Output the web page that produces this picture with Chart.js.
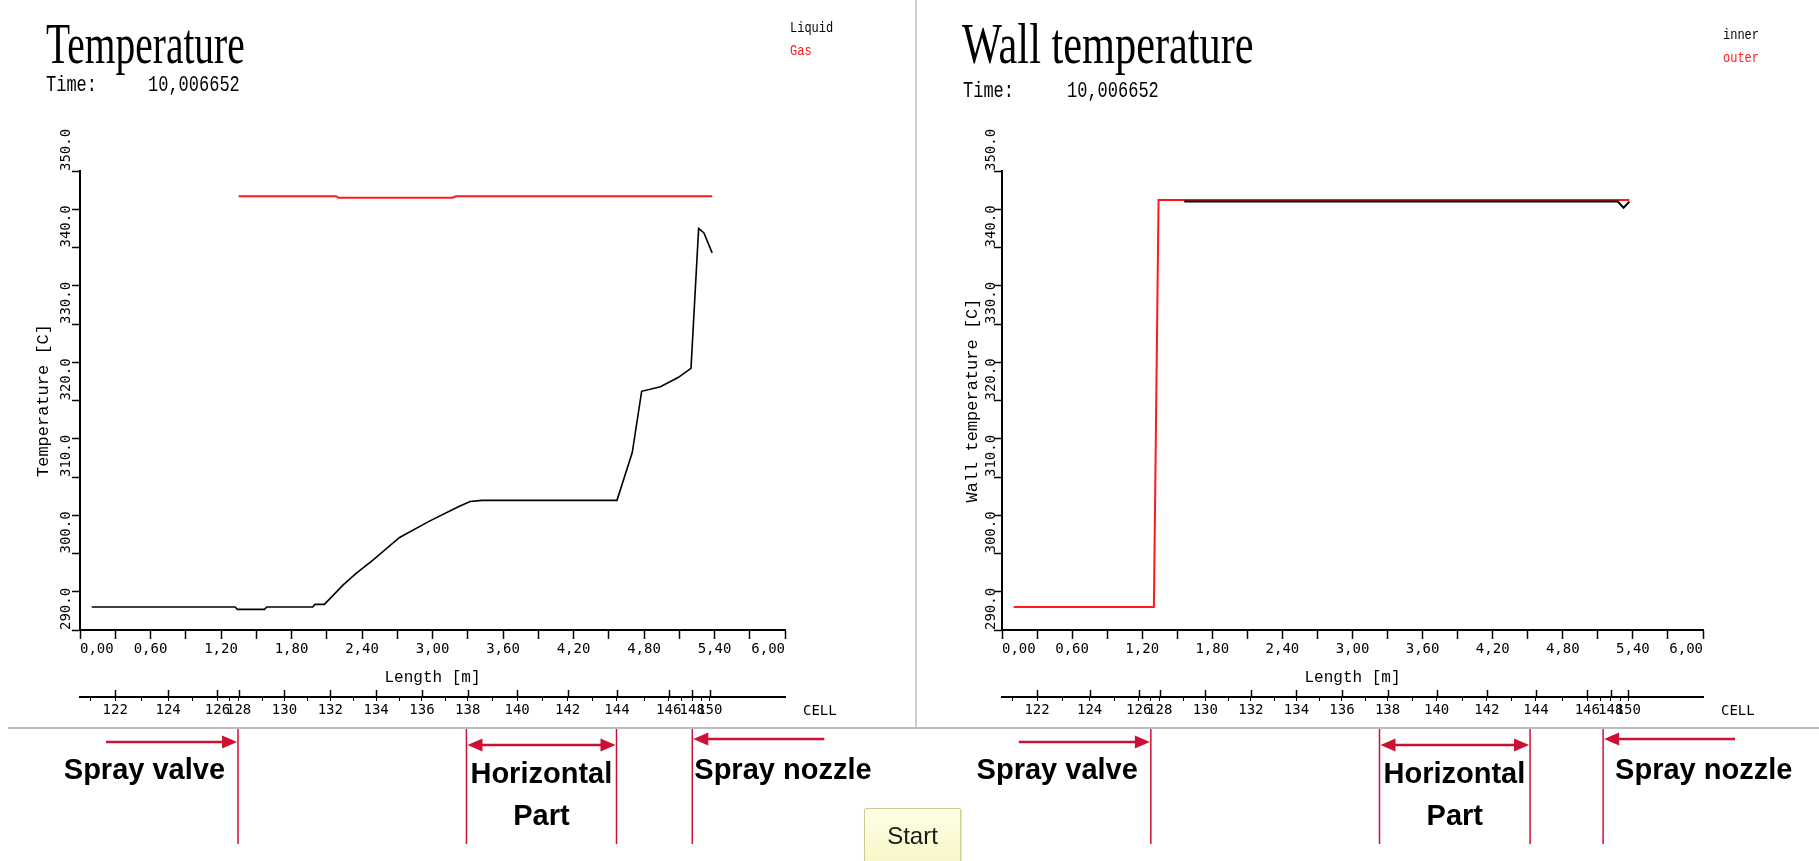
<!DOCTYPE html>
<html>
<head>
<meta charset="utf-8">
<title>Temperature / Wall temperature</title>
<script src="https://cdn.jsdelivr.net/npm/chart.js@4.4.1/dist/chart.umd.min.js"></script>
<style>
  html, body { margin: 0; padding: 0; background: #fff; }
  #page { position: relative; width: 1819px; height: 861px; overflow: hidden; background: #fff; }
  canvas { position: absolute; top: 0; }
  .t { position: absolute; white-space: nowrap; transform-origin: 0 0; line-height: 1; color: #000; }
  .title { font-family: "Liberation Serif", serif; font-size: 58px; }
  .time { font-family: "Liberation Mono", monospace; font-size: 17px; transform: scaleY(1.3); }
  .leg { font-family: "Liberation Mono", monospace; font-size: 12px; transform: scaleY(1.25); }
  .red { color: #ff1a1a; }
  #vsep { position: absolute; left: 915px; top: 0; width: 2px; height: 728px; background: #cfcfcf; }
  #hsep { position: absolute; left: 8px; top: 727px; width: 1811px; height: 2px; background: #bdbdbd; }
  #start { position: absolute; left: 864px; top: 808px; width: 95px; height: 60px;
           border: 1px solid #cdc992; border-radius: 2px;
           background: linear-gradient(#ffffe6, #f6f4c4);
           box-shadow: 1px 1px 2px rgba(0,0,0,0.12);
           font-family: "Liberation Sans", Arial, sans-serif; font-size: 24px; color: #1a1a1a; }
  #start span { position: absolute; left: 0; width: 95px; top: 13px; text-align: center; }
</style>
</head>
<body>
<div id="page">
  <canvas id="leftChart" width="916" height="861" style="left:0"></canvas>
  <canvas id="rightChart" width="903" height="861" style="left:916px"></canvas>

  <div class="t title" style="left:46px; top:15px; transform: scaleX(0.68);">Temperature</div>
  <div class="t time" style="left:46px; top:74px;">Time:</div>
  <div class="t time" style="left:148px; top:74px;">10,006652</div>
  <div class="t leg" style="left:790px; top:21px;">Liquid</div>
  <div class="t leg red" style="left:790px; top:44px;">Gas</div>

  <div class="t title" style="left:962px; top:15px; transform: scaleX(0.73);">Wall temperature</div>
  <div class="t time" style="left:963px; top:80px;">Time:</div>
  <div class="t time" style="left:1067px; top:80px;">10,006652</div>
  <div class="t leg" style="left:1723px; top:28px;">inner</div>
  <div class="t leg red" style="left:1723px; top:51px;">outer</div>

  <div id="vsep"></div>
  <div id="hsep"></div>
  <div id="start"><span>Start</span></div>
</div>

<script>
// ---- Fluid temperature along the spray line ----
const lengthLiquid = [0.10, 1.32, 1.34, 1.57, 1.59, 1.98, 2.00, 2.08, 2.24, 2.35, 2.49, 2.72, 2.97, 3.22, 3.32, 3.42, 4.57, 4.70, 4.78, 4.94, 5.09, 5.20, 5.265, 5.31, 5.38];
const tempLiquid   = [293.0, 293.0, 292.7, 292.7, 293.0, 293.0, 293.35, 293.35, 295.9, 297.4, 299.1, 302.1, 304.2, 306.1, 306.8, 306.95, 306.95, 313.2, 321.2, 321.8, 323.0, 324.2, 342.5, 341.9, 339.3];
const lengthGas    = [1.35, 2.18, 2.20, 3.17, 3.20, 5.38];
const tempGas      = [346.7, 346.7, 346.5, 346.5, 346.7, 346.7];

// ---- Pipe wall temperature ----
const lengthInner  = [1.56, 5.27, 5.32, 5.37];
const wallInner    = [346.0, 346.0, 345.2, 346.0];
const lengthOuter  = [0.10, 1.30, 1.34, 5.37];
const wallOuter    = [293.0, 293.0, 346.2, 346.2];

// ---- Axis ticks ----
const lengthTicks      = [0, 0.3, 0.6, 0.9, 1.2, 1.5, 1.8, 2.1, 2.4, 2.7, 3.0, 3.3, 3.6, 3.9, 4.2, 4.5, 4.8, 5.1, 5.4, 5.7, 6.0];
const lengthTickLabels = ['0,00', '', '0,60', '', '1,20', '', '1,80', '', '2,40', '', '3,00', '', '3,60', '', '4,20', '', '4,80', '', '5,40', '', '6,00'];
const tempTicks        = [290, 295, 300, 305, 310, 315, 320, 325, 330, 335, 340, 345, 350];
const tempTickLabels   = ['290.0', '', '300.0', '', '310.0', '', '320.0', '', '330.0', '', '340.0', '', '350.0'];

// ---- Cell boundaries on the length axis ----
const cellPositions  = [0.09, 0.30, 0.52, 0.75, 0.96, 1.17, 1.27, 1.35, 1.55, 1.74, 1.94, 2.13, 2.33, 2.52, 2.72, 2.91, 3.11, 3.30, 3.51, 3.72, 3.94, 4.15, 4.36, 4.57, 4.80, 5.01, 5.12, 5.21, 5.29, 5.36];
const cellTickLabels = ['', '122', '', '124', '', '126', '', '128', '', '130', '', '132', '', '134', '', '136', '', '138', '', '140', '', '142', '', '144', '', '146', '', '148', '', '150'];

// ---- Component markers (length in m) ----
const markerNames    = ['Spray valve', 'Horizontal', 'Part', 'Spray nozzle'];
const leftMarkers    = { valve: 1.345, horizStart: 3.289, horizEnd: 4.566, nozzle: 5.211 };
const rightMarkers   = { valve: 1.274, horizStart: 3.231, horizEnd: 4.52, nozzle: 5.145 };

const INK = '#000';
const RED = '#ff1a1a';
const MARK = '#cc1033';
const MONO = 'Liberation Mono';
const TICKFONT = 'DejaVu Sans Mono';
const TICK_PX = 14;
const CHAR_W = TICK_PX * 0.602;   // advance of one DejaVu Sans Mono glyph

function points(xs, ys) { return xs.map((x, i) => ({ x: x, y: ys[i] })); }

// Rotated temperature labels sit just above their tick: the leading blank half
// of the centred string occupies the part below the tick.
function upwardLabel(text) {
  return text ? ' '.repeat(text.length) + text : '';
}

function arrowHead(ctx, tipX, y, dir) {
  ctx.beginPath();
  ctx.moveTo(tipX, y);
  ctx.lineTo(tipX - dir * 15, y - 6.5);
  ctx.lineTo(tipX - dir * 15, y + 6.5);
  ctx.closePath();
  ctx.fill();
}

// Draws the upward cell ticks, the CELL caption and the component markers below the chart
const panelDecor = {
  id: 'panelDecor',
  afterDraw(chart, args, opts) {
    const ctx = chart.ctx;
    const cell = chart.scales.cell;
    const xs = chart.scales.x;
    ctx.save();

    ctx.strokeStyle = INK;
    ctx.lineWidth = 1.5;
    cell.ticks.forEach(t => {
      if (t.label) {
        const px = Math.round(cell.getPixelForValue(t.value)) + 0.5;
        ctx.beginPath();
        ctx.moveTo(px, cell.top);
        ctx.lineTo(px, cell.top - 7);
        ctx.stroke();
      }
    });
    ctx.fillStyle = INK;
    ctx.font = TICK_PX + 'px "' + TICKFONT + '"';
    ctx.textAlign = 'left';
    ctx.textBaseline = 'middle';
    ctx.fillText('CELL', chart.chartArea.right + 18, cell.top + 14);

    const m = opts.markers;
    const pv = xs.getPixelForValue(m.valve);
    const ph1 = xs.getPixelForValue(m.horizStart);
    const ph2 = xs.getPixelForValue(m.horizEnd);
    const pn = xs.getPixelForValue(m.nozzle);

    ctx.strokeStyle = MARK;
    ctx.fillStyle = MARK;
    ctx.lineWidth = 1.5;
    [pv, ph1, ph2, pn].forEach(px => {
      ctx.beginPath();
      ctx.moveTo(px, 728);
      ctx.lineTo(px, 844);
      ctx.stroke();
    });

    ctx.lineWidth = 2.5;
    // valve: arrow pointing right onto the marker
    ctx.beginPath(); ctx.moveTo(pv - 132, 742); ctx.lineTo(pv - 12, 742); ctx.stroke();
    arrowHead(ctx, pv - 1, 742, 1);
    // horizontal part: double arrow between its two markers
    ctx.beginPath(); ctx.moveTo(ph1 + 12, 745); ctx.lineTo(ph2 - 12, 745); ctx.stroke();
    arrowHead(ctx, ph1 + 1, 745, -1);
    arrowHead(ctx, ph2 - 1, 745, 1);
    // nozzle: arrow pointing left onto the marker
    ctx.beginPath(); ctx.moveTo(pn + 12, 739); ctx.lineTo(pn + 132, 739); ctx.stroke();
    arrowHead(ctx, pn + 1, 739, -1);

    ctx.fillStyle = INK;
    ctx.font = 'bold 29px "Liberation Sans"';
    ctx.textBaseline = 'middle';
    ctx.textAlign = 'right';
    ctx.fillText(markerNames[0], pv - 13, 771);
    ctx.textAlign = 'left';
    ctx.fillText(markerNames[1], ph1 + 4, 775);
    ctx.textAlign = 'center';
    ctx.fillText(markerNames[2], (ph1 + ph2) / 2, 817);
    ctx.textAlign = 'left';
    ctx.fillText(markerNames[3], pn + opts.nozzleGap, 771);

    ctx.restore();
  }
};

function buildPanel(canvasId, cfg) {
  const tickFont = { family: TICKFONT, size: TICK_PX };
  const yTickLen = 8;
  const widestLabel = 10 * CHAR_W;
  return new Chart(document.getElementById(canvasId), {
    type: 'line',
    data: { datasets: cfg.datasets },
    options: {
      responsive: false,
      animation: false,
      events: [],
      layout: { padding: { left: 0, top: 171, right: cfg.padRight, bottom: 141 } },
      plugins: {
        legend: { display: false },
        tooltip: { enabled: false },
        panelDecor: { markers: cfg.markers, nozzleGap: cfg.nozzleGap }
      },
      elements: { point: { radius: 0 }, line: { tension: 0 } },
      scales: {
        x: {
          type: 'linear', position: 'bottom', min: 0, max: 6, weight: 0,
          afterBuildTicks: s => { s.ticks = lengthTicks.map(v => ({ value: v })); },
          afterFit: s => { s.height = 67; },
          ticks: { autoSkip: false, minRotation: 0, maxRotation: 0, align: 'inner', padding: 2,
                   color: INK, font: tickFont, callback: (v, i) => lengthTickLabels[i] },
          grid: { drawOnChartArea: false, drawTicks: true, tickLength: 9, tickColor: INK, tickWidth: 1.5 },
          border: { display: true, color: INK, width: 2 },
          title: { display: true, text: 'Length [m]', color: INK, font: { family: MONO, size: 16 },
                   padding: { top: 0, bottom: 10 } }
        },
        cell: {
          type: 'linear', position: 'bottom', min: 0, max: 6, weight: 1,
          afterBuildTicks: s => { s.ticks = cellPositions.map(v => ({ value: v })); },
          afterFit: s => { s.height = 23; },
          ticks: { autoSkip: false, minRotation: 0, maxRotation: 0, padding: 1,
                   color: INK, font: tickFont, callback: (v, i) => cellTickLabels[i] },
          grid: { drawOnChartArea: false, drawTicks: true, tickLength: 4, tickColor: INK, tickWidth: 1 },
          border: { display: true, color: INK, width: 2 }
        },
        y: {
          type: 'linear', position: 'left', min: 290, max: 350,
          afterBuildTicks: s => { s.ticks = tempTicks.map(v => ({ value: v })); },
          afterFit: s => { s.width = cfg.axisLeft; },
          ticks: { autoSkip: false, minRotation: 90, maxRotation: 90, crossAlign: 'center',
                   padding: cfg.axisLeft - yTickLen - widestLabel / 2 - cfg.labelX,
                   color: INK, font: tickFont,
                   callback: (v, i) => upwardLabel(tempTickLabels[i]) },
          grid: { drawOnChartArea: false, drawTicks: true, tickLength: yTickLen, tickColor: INK, tickWidth: 1.5 },
          border: { display: true, color: INK, width: 2 },
          title: { display: true, text: cfg.yTitle, color: INK, font: { family: MONO, size: 17 },
                   padding: { top: cfg.titleX - 10, bottom: 0 } }
        }
      }
    },
    plugins: [panelDecor]
  });
}

buildPanel('leftChart', {
  yTitle: 'Temperature [C]',
  axisLeft: 80, labelX: 66, titleX: 43, padRight: 131, nozzleGap: 2,
  markers: leftMarkers,
  datasets: [
    { label: 'Liquid', data: points(lengthLiquid, tempLiquid), borderColor: INK, borderWidth: 1.6, fill: false },
    { label: 'Gas', data: points(lengthGas, tempGas), borderColor: RED, borderWidth: 2, fill: false }
  ]
});

buildPanel('rightChart', {
  yTitle: 'Wall temperature [C]',
  axisLeft: 86, labelX: 75, titleX: 56, padRight: 116, nozzleGap: 12,
  markers: rightMarkers,
  datasets: [
    { label: 'inner', data: points(lengthInner, wallInner), borderColor: INK, borderWidth: 2, fill: false },
    { label: 'outer', data: points(lengthOuter, wallOuter), borderColor: RED, borderWidth: 2, fill: false }
  ]
});
</script>
</body>
</html>
